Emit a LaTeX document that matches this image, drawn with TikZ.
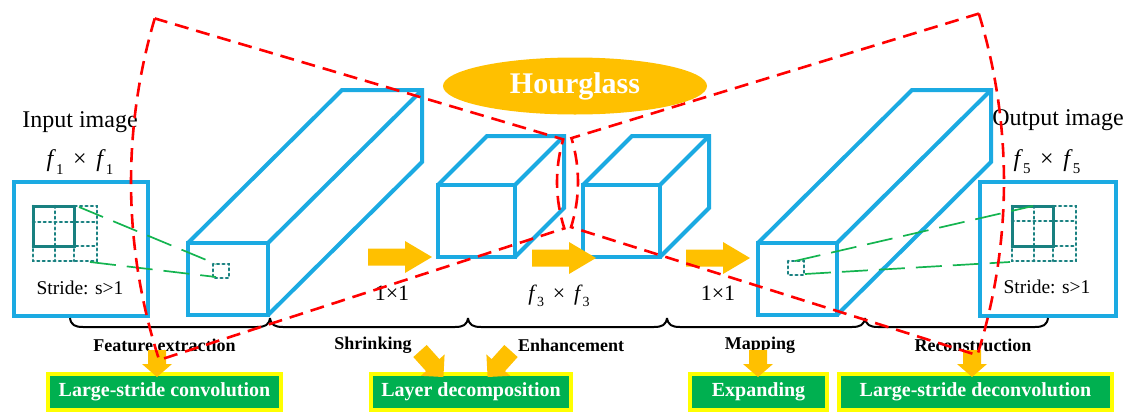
\documentclass[tikz,border=0pt]{standalone}
\usepackage{fontspec}
\setmainfont{Liberation Serif}
\usetikzlibrary{calc,shapes.geometric}
\definecolor{cubeblue}{RGB}{27,170,226}
\definecolor{gridteal}{RGB}{24,128,128}
\definecolor{linkgreen}{RGB}{20,180,80}
\definecolor{amber}{RGB}{255,192,0}
\definecolor{boxgreen}{RGB}{0,176,80}
\definecolor{boxyellow}{RGB}{255,255,0}
\definecolor{hgred}{RGB}{255,0,0}
\newcommand{\fsz}[1]{\fontsize{#1}{#1}\selectfont}
\newcommand{\fxf}[2]{\textit{f}\kern0pt\raisebox{-0.3em}{\fsz{#2}#1}\hspace{0.4em}×\hspace{0.4em}\textit{f}\kern0pt\raisebox{-0.3em}{\fsz{#2}#1}}
% cuboid: x, y (front top-left, y down), w, h, dx, dy
\newcommand{\drawcuboid}[6]{%
  \draw[cube] (#1,-#2) rectangle (#1+#3,-#2-#4);
  \draw[cube] (#1,-#2) -- (#1+#5,-#2+#6) -- (#1+#3+#5,-#2+#6) -- (#1+#3+#5,-#2-#4+#6) -- (#1+#3,-#2-#4);
  \draw[cube] (#1+#3,-#2) -- (#1+#3+#5,-#2+#6);}
% bracket segment between x1 and x2
\newcommand{\segbrace}[2]{%
  \draw[brk] (#1,-318) .. controls (#1+1,-325) and (#1+5,-327) .. (#1+13,-327) -- (#2-13,-327) .. controls (#2-5,-327) and (#2-1,-325) .. (#2,-318);}
% image grid: x0,y0 top-left; verticals x1,x2,x3; horizontals y1,y2,y3
\newcommand{\imggrid}[8]{%
  \draw[griddot] (#1,-#2) rectangle (#5,-#8);
  \draw[griddot] (#3,-#2) -- (#3,-#8);
  \draw[griddot] (#4,-#2) -- (#4,-#8);
  \draw[griddot] (#1,-#6) -- (#5,-#6);
  \draw[griddot] (#1,-#7) -- (#5,-#7);
  \draw[gridsolid] (#1,-#2) rectangle (#4,-#7);}
\begin{document}
\begin{tikzpicture}[x=1pt,y=1pt,
  cube/.style={draw=cubeblue,line width=4pt},
  imgframe/.style={draw=cubeblue,line width=4pt},
  gridsolid/.style={draw=gridteal,line width=3pt},
  griddot/.style={draw=gridteal,line width=2.6pt,line cap=round,dash pattern=on 1.8pt off 3.6pt},
  link/.style={draw=linkgreen,line width=1.7pt,dash pattern=on 26pt off 11pt},
  hg/.style={draw=hgred,line width=2.6pt,dash pattern=on 14pt off 8pt},
  brk/.style={draw=black,line width=2pt},
  lbl/.style={inner sep=0pt,font=\fsz{18}\bfseries},
  tagbox/.style={draw=boxyellow,line width=4pt,fill=boxgreen,text=white,font=\fsz{20}\bfseries,minimum height=36pt,inner sep=0pt},
  blockarr/.pic={\fill[amber] (0,-8.5) -- (37,-8.5) -- (37,-16) -- (64,0) -- (37,16) -- (37,8.5) -- (0,8.5) -- cycle;},
  smallarr/.pic={\fill[amber] (0,-9) -- (14,-9) -- (14,-15) -- (27,0) -- (14,15) -- (14,9) -- (0,9) -- cycle;},
  diagarr/.pic={\fill[amber] (0,-9) -- (19,-9) -- (19,-16) -- (35,0) -- (19,16) -- (19,9) -- (0,9) -- cycle;},
]
\useasboundingbox (0,0) rectangle (1138,-418);

% input / output images
\draw[imgframe] (14,-182) rectangle (148,-316);
\draw[imgframe] (980,-182) rectangle (1116,-316);
\imggrid{33}{206}{55}{74}{97}{222}{246}{261}
\imggrid{1012}{206}{1034}{1053}{1076}{221}{246}{261}

% cuboids
\drawcuboid{188}{243}{80}{72}{154}{153}
\drawcuboid{438}{185}{77}{72}{49}{49}
\drawcuboid{583}{185}{77}{72}{49}{49}
\drawcuboid{758}{243}{79}{72}{154}{153}

% small receptive-field squares
\draw[griddot] (213,-264) rectangle (229,-278);
\draw[griddot] (788,-261) rectangle (804,-275);

% green links
\coordinate (inA) at (79,-207);
\coordinate (inB) at (90,-262);
\coordinate (c1A) at (216,-264);
\coordinate (c1B) at (216,-277);
\coordinate (c4A) at (795,-261);
\coordinate (c4B) at (805,-274);
\coordinate (outA) at (1033,-206);
\coordinate (outB) at (1010,-262);
\draw[link] (inA) -- (c1A);
\draw[link] (inB) -- (c1B);
\draw[link] (c4A) -- (outA);
\draw[link] (c4B) -- (outB);

% right arrows
\pic at (368,-257) {blockarr};
\pic at (532,-258) {blockarr};
\pic at (686,-258) {blockarr};

% texts
\node[inner sep=0pt,font=\fsz{24}] (inlabel) at (80,-122) {Input image};
\node[inner sep=0pt,font=\fsz{24}] (insize) at (80,-162) {\fxf{1}{15}};
\node[inner sep=0pt,font=\fsz{24}] (outlabel) at (1058,-120) {Output image};
\node[inner sep=0pt,font=\fsz{24}] (outsize) at (1047,-162) {\fxf{5}{15}};
\node[inner sep=0pt,font=\fsz{19.5}] (instride) at (80,-288) {Stride: s>1};
\node[inner sep=0pt,font=\fsz{19.5}] (outstride) at (1047,-287) {Stride: s>1};
\node[inner sep=0pt,font=\fsz{22}] (k1) at (392,-293) {1×1};
\node[inner sep=0pt,font=\fsz{22}] (k3) at (559,-296) {\fxf{3}{14}};
\node[inner sep=0pt,font=\fsz{22}] (k4) at (718,-293) {1×1};

% brackets
\segbrace{70}{270}
\segbrace{270}{468}
\segbrace{468}{667}
\segbrace{667}{865}
\segbrace{865}{1048}

\node[lbl] (lfe) at (164.5,-345) {Feature extraction};
\node[lbl] (lsh) at (373,-345) {Shrinking};
\node[lbl] (len) at (571,-345) {Enhancement};
\node[lbl] (lma) at (760,-345) {Mapping};
\node[lbl] (lre) at (973,-345) {Reconstruction};

% tag boxes
\node[tagbox,minimum width=233pt] (tconv) at (164.5,-392) {Large-stride convolution};
\node[tagbox,minimum width=200pt] (tlayer) at (471,-392) {Layer decomposition};
\node[tagbox,minimum width=137pt] (texp) at (758.5,-392) {Expanding};
\node[tagbox,minimum width=273pt] (tdeconv) at (975.5,-392) {Large-stride deconvolution};

% down arrows
\pic[rotate=-90] at (157,-350) {smallarr};
\pic[rotate=-48] at (420,-351) {diagarr};
\pic[rotate=-132] at (511,-351) {diagarr};
\pic[rotate=-90] at (758,-350) {smallarr};
\pic[rotate=-90] at (972,-350) {smallarr};

% hourglass outline (two annular sectors)
\draw[hg] (707,-182) ++(163.5:576) arc[start angle=163.5,end angle=198,radius=576]
  -- ++(18:426) arc[start angle=198,end angle=163.5,radius=150] -- cycle;
\draw[hg] (428,-182) ++(17:576) arc[start angle=17,end angle=-17.5,radius=576]
  -- ++(162.5:426) arc[start angle=-17.5,end angle=17,radius=150] -- cycle;

\node[ellipse,fill=amber,minimum width=264pt,minimum height=57pt,inner sep=0pt,text=white,font=\fsz{30}\bfseries] (hglass) at (575,-86) {Hourglass};
\end{tikzpicture}
\end{document}
